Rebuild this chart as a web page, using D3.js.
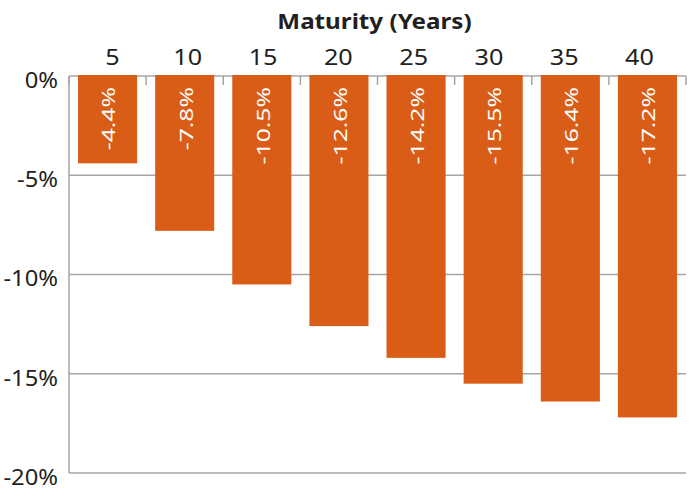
<!DOCTYPE html>
<html lang="en">
<head>
    <meta charset="UTF-8">
    <title>Maturity (Years)</title>
    <script src="https://d3js.org/d3.v7.min.js"></script>
    <style>
        body {
            margin: 0;
            background: #fff;
            font-family: "Noto Sans", sans-serif;
        }
        svg {
            display: block;
        }
    </style>
</head>
<body>
<svg></svg>
<script>
    const maturities = ["5", "10", "15", "20", "25", "30", "35", "40"];
    const changes = [-4.4, -7.8, -10.5, -12.6, -14.2, -15.5, -16.4, -17.2];
    const yTicks = [0, -5, -10, -15, -20];

    const W = 691, H = 497;
    const margin = { top: 76, right: 5, bottom: 24, left: 69 };
    const width = W - margin.left - margin.right;
    const height = H - margin.top - margin.bottom;

    const orange = "#d95d16";
    const grey = "#a6a6a6";
    const textColor = "#231f20";
    const font = "'Noto Sans', sans-serif";

    const svg = d3.select("svg")
        .attr("width", W)
        .attr("height", H);

    const g = svg.append("g")
        .attr("transform", `translate(${margin.left},${margin.top})`);

    const x = d3.scaleBand()
        .domain(maturities)
        .range([0, width])
        .paddingInner(0.234)
        .paddingOuter(0.117);

    // the category labels in the original sit on a slightly tighter spacing than the bars
    const xLabel = d3.scalePoint()
        .domain(maturities)
        .range([43, 570]);

    const y = d3.scaleLinear()
        .domain([0, -20])
        .range([0, height]);

    // gridlines
    g.selectAll(".grid")
        .data(yTicks)
        .enter()
        .append("line")
        .attr("class", "grid")
        .attr("x1", 0)
        .attr("x2", width)
        .attr("y1", d => y(d))
        .attr("y2", d => y(d))
        .attr("stroke", grey)
        .attr("stroke-width", 1.5);

    // left axis line
    g.append("line")
        .attr("x1", 0).attr("x2", 0)
        .attr("y1", 0).attr("y2", height)
        .attr("stroke", grey)
        .attr("stroke-width", 1.5);

    // bars
    g.selectAll(".bar")
        .data(changes)
        .enter()
        .append("rect")
        .attr("class", "bar")
        .attr("x", (d, i) => x(maturities[i]))
        .attr("y", y(0) - 1)
        .attr("width", x.bandwidth())
        .attr("height", d => y(d) - y(0) + 1)
        .attr("fill", orange);

    // tick marks between categories
    const step = x.step();
    g.selectAll(".btick")
        .data(d3.range(maturities.length + 1))
        .enter()
        .append("line")
        .attr("class", "btick")
        .attr("x1", i => i * step)
        .attr("x2", i => i * step)
        .attr("y1", 0)
        .attr("y2", 9)
        .attr("stroke", grey)
        .attr("stroke-width", 1.5);

    // top axis labels (font is stretched a bit to get the wide look)
    const xAxis = g.append("g")
        .call(d3.axisTop(xLabel).tickSize(0).tickPadding(11));
    xAxis.select(".domain").remove();
    xAxis.selectAll("text")
        .attr("font-size", 21)
        .attr("font-family", font)
        .attr("transform", "scale(1.2,1)")
        .attr("fill", textColor);

    // left axis labels
    const ySx = 1.08;
    const yAxis = g.append("g")
        .call(d3.axisLeft(y).tickValues(yTicks).tickFormat(d => d + "%").tickSize(0));
    yAxis.select(".domain").remove();
    yAxis.selectAll("text")
        .attr("font-size", 22)
        .attr("font-family", font)
        .attr("x", -11 / ySx)
        .attr("dy", "0.52em")
        .attr("transform", `scale(${ySx},1)`)
        .attr("fill", textColor);

    // value labels inside bars
    g.selectAll(".val")
        .data(changes)
        .enter()
        .append("text")
        .attr("class", "val")
        .attr("transform", (d, i) => `translate(${x(maturities[i]) + x.bandwidth() / 2 + 1},${y(0) + 11}) rotate(-90) scale(1.3,1)`)
        .attr("text-anchor", "end")
        .attr("dy", "0.36em")
        .attr("font-size", 19)
        .attr("font-family", font)
        .attr("fill", "#fff")
        .text(d => d.toFixed(1) + "%");

    // title
    svg.append("text")
        .attr("transform", `translate(${margin.left + width / 2 - 3},29) scale(1.1,1)`)
        .attr("text-anchor", "middle")
        .attr("font-size", 22)
        .attr("font-weight", "bold")
        .attr("font-family", font)
        .attr("fill", textColor)
        .text("Maturity (Years)");
</script>
</body>
</html>
